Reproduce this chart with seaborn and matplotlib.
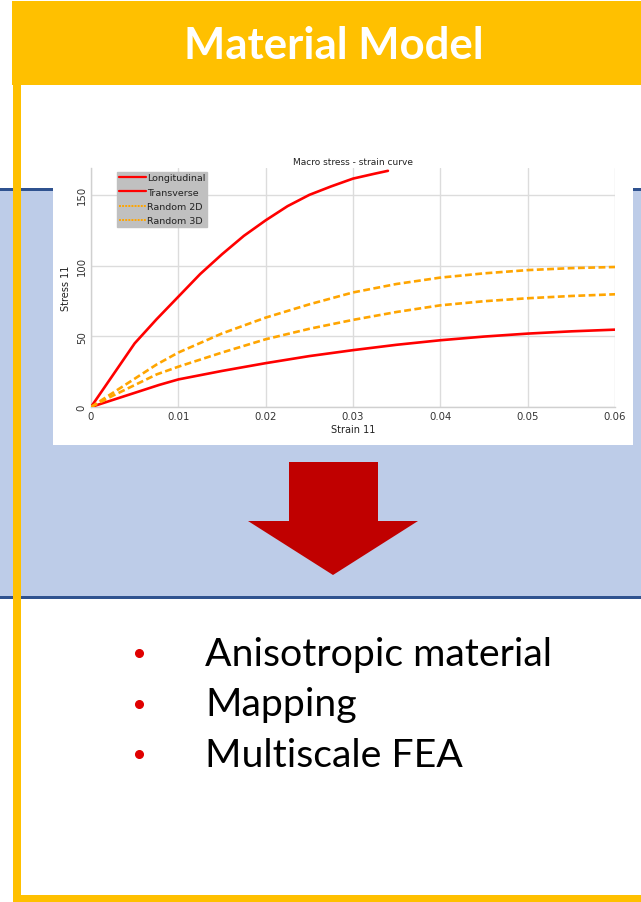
import numpy as np
import pandas as pd
import matplotlib
matplotlib.use("Agg")
import matplotlib.pyplot as plt
from matplotlib.patches import Rectangle, Polygon
from matplotlib.lines import Line2D
import seaborn as sns

# ---------------- data ----------------
long_x = [0, 0.005, 0.0075, 0.01, 0.0125, 0.015, 0.0175, 0.02, 0.0225, 0.025, 0.0275, 0.03, 0.0325, 0.034]
long_y = [0, 45, 62, 78, 94, 108, 121, 132, 142, 150, 156, 161.5, 165, 167]

trans_x = [0, 0.0078, 0.01, 0.015, 0.02, 0.025, 0.03, 0.035, 0.04, 0.045, 0.05, 0.055, 0.06]
trans_y = [0, 15.6, 19.5, 25.5, 31, 36, 40.2, 44, 47.2, 49.8, 51.9, 53.5, 54.7]

r2d_x = [0, 0.0025, 0.005, 0.0075, 0.01, 0.015, 0.02, 0.025, 0.03, 0.035, 0.04, 0.045, 0.05, 0.055, 0.06]
r2d_y = [0, 10, 20, 30, 38.5, 52, 63.2, 72.6, 81, 87, 91.5, 94.5, 96.8, 98.2, 99]

r3d_x = [0, 0.0025, 0.005, 0.0075, 0.01, 0.015, 0.02, 0.025, 0.03, 0.035, 0.04, 0.045, 0.05, 0.055, 0.06]
r3d_y = [0, 8, 15.5, 23, 28.5, 38.5, 47.9, 55.3, 61.6, 67.2, 71.9, 74.8, 76.9, 78.5, 79.7]

series_names = ["Longitudinal", "Transverse", "Random 2D", "Random 3D"]
x_ticks = [0, 0.01, 0.02, 0.03, 0.04, 0.05, 0.06]
x_tick_labels = ["0", "0.01", "0.02", "0.03", "0.04", "0.05", "0.06"]
y_ticks = [0, 50, 100, 150]
bullets = ["Anisotropic material", "Mapping", "Multiscale FEA"]

frames = []
for name, xs, ys in zip(series_names, [long_x, trans_x, r2d_x, r3d_x], [long_y, trans_y, r2d_y, r3d_y]):
    frames.append(pd.DataFrame({"strain": xs, "stress": ys, "series": name}))
df = pd.concat(frames, ignore_index=True)

# ---------------- figure ----------------
sns.set_theme(style="white")
plt.rcParams["font.family"] = ["DejaVu Sans"]

W, H = 641, 903
fig = plt.figure(figsize=(W / 100, H / 100), dpi=100)
fig.patch.set_facecolor("white")

bg = fig.add_axes([0, 0, 1, 1])
bg.set_xlim(0, W)
bg.set_ylim(H, 0)
bg.axis("off")

YELLOW = "#FFC000"
# blue band
bg.add_patch(Rectangle((0, 190), W, 409, facecolor="#BDCCE8", edgecolor="none", zorder=1))
bg.add_patch(Rectangle((0, 189), W, 2.5, facecolor="#2F528F", edgecolor="none", zorder=2))
bg.add_patch(Rectangle((0, 597), W, 2.5, facecolor="#2F528F", edgecolor="none", zorder=2))
# white chart box
bg.add_patch(Rectangle((53, 150), 580, 296, facecolor="white", edgecolor="none", zorder=3))
# yellow frame
bg.add_patch(Rectangle((12, 2), W - 12, 84, facecolor=YELLOW, edgecolor="none", zorder=4))
bg.add_patch(Rectangle((13, 86), 8, H - 86, facecolor=YELLOW, edgecolor="none", zorder=4))
bg.add_patch(Rectangle((13, 896), W - 13, 7, facecolor=YELLOW, edgecolor="none", zorder=4))
bg.text(334, 46, "Material Model", color="white", fontsize=31.5, fontweight="bold",
        family=["Lato", "DejaVu Sans"], ha="center", va="center", zorder=5)

# arrow
arrow_pts = [(289, 463), (378, 463), (378, 522), (418, 522), (333, 576),
             (248, 522), (289, 522)]
bg.add_patch(Polygon(arrow_pts, closed=True, facecolor="#C00000", edgecolor="none", zorder=5))

# bullets
for i, txt in enumerate(bullets):
    yy = 654 + i * 50.5
    bg.plot([139], [yy], marker="o", color="#E00000", markersize=5.5, zorder=5)
    bg.text(205, yy + 1, txt, fontsize=28.3, family=["Lato", "DejaVu Sans"],
            color="black", ha="left", va="center", zorder=5)

# ---------------- chart ----------------
ax = fig.add_axes([91 / W, 1 - 408 / H, 524 / W, 239 / H])
ax.set_facecolor("white")
palette = {"Longitudinal": "#FF0000", "Transverse": "#FF0000",
           "Random 2D": "#FFA500", "Random 3D": "#FFA500"}
dashes = {"Longitudinal": "", "Transverse": "",
          "Random 2D": (2.6, 1.3), "Random 3D": (2.6, 1.3)}
sns.lineplot(data=df, x="strain", y="stress", hue="series", style="series",
             palette=palette, dashes=dashes, estimator=None, sort=True,
             linewidth=1.9, legend=False, ax=ax, zorder=3)

ax.set_xlim(0, 0.06)
ax.set_ylim(0, 169)
ax.set_xticks(x_ticks)
ax.set_xticklabels(x_tick_labels)
ax.set_yticks(y_ticks)
ax.grid(True, color="#DCDCDC", linewidth=1)
ax.set_axisbelow(True)
for s in ["top", "right"]:
    ax.spines[s].set_visible(False)
for s in ["left", "bottom"]:
    ax.spines[s].set_color("#D0D0D0")
    ax.spines[s].set_linewidth(1)
ax.tick_params(axis="both", length=0, labelsize=7.3, colors="#333333", pad=3)
for lbl in ax.get_yticklabels():
    lbl.set_rotation(90)
    lbl.set_va("center")
ax.set_xlabel("Strain 11", fontsize=7, color="#222222", labelpad=2)
ax.set_ylabel("Stress 11", fontsize=7, color="#222222", labelpad=4)
ax.set_title("Macro stress - strain curve", fontsize=6.5, color="#222222", pad=3)

handles = [
    Line2D([], [], color="#FF0000", lw=1.6),
    Line2D([], [], color="#FF0000", lw=1.6),
    Line2D([], [], color="#FFA500", lw=1.4, linestyle=(0, (1, 0.6))),
    Line2D([], [], color="#FFA500", lw=1.4, linestyle=(0, (1, 0.6))),
]
leg = ax.legend(handles, series_names, loc="upper left", bbox_to_anchor=(0.05, 0.985),
                frameon=True, fancybox=False, facecolor="#C0C0C0", edgecolor="#C0C0C0",
                framealpha=1, fontsize=6.8, handlelength=2.9, handletextpad=0.05,
                borderpad=0.2, labelspacing=0.55, borderaxespad=0)
for t in leg.get_texts():
    t.set_color("#222222")

fig.savefig("out.png", dpi=100, facecolor="white")
